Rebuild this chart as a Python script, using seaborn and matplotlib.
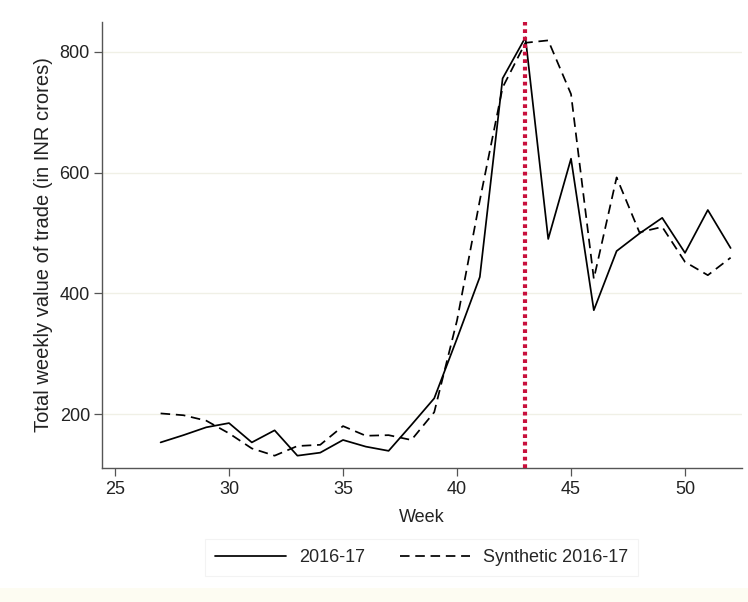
import matplotlib
matplotlib.use("Agg")
import matplotlib.pyplot as plt
import seaborn as sns
import pandas as pd
from matplotlib.lines import Line2D
from matplotlib.patches import Rectangle

weeks = list(range(27, 53))
actual = [153, 165, 178, 185, 153, 173, 131, 136, 157, 146, 139, 182, 226,
          325, 427, 756, 824, 490, 623, 372, 470, 499, 525, 467, 538, 475]
synthetic = [201, 198, 189, 168, 143, 131, 147, 149, 180, 164, 165, 157, 203,
             355, 554, 741, 815, 819, 730, 424, 592, 501, 510, 452, 430, 459]
series_names = ["2016-17", "Synthetic 2016-17"]
treat_week = 43
x_ticks = [25, 30, 35, 40, 45, 50]
y_ticks = [200, 400, 600, 800]

df = pd.DataFrame({
    "Week": weeks * 2,
    "Value": actual + synthetic,
    "Series": [series_names[0]] * len(weeks) + [series_names[1]] * len(weeks),
})

sns.set_style("white")
plt.rcParams["font.family"] = ["Liberation Sans", "DejaVu Sans"]

fig = plt.figure(figsize=(7.48, 6.02), dpi=100)
fig.patch.set_facecolor("white")
fig.patches.append(Rectangle((0, 0), 1, 0.023, transform=fig.transFigure,
                             facecolor="#fdfcf2", edgecolor="none", zorder=-5))
ax = fig.add_axes([0.137, 0.222, 0.855, 0.742])
ax.set_facecolor("white")

for yv in y_ticks:
    ax.axhline(yv, color="#f0f0e6", lw=1.0, zorder=0)

sns.lineplot(data=df, x="Week", y="Value", style="Series",
             dashes={series_names[0]: "", series_names[1]: (5.5, 3.3)},
             color="black", lw=1.25, ax=ax, legend=False, zorder=3)

ax.axvline(treat_week, color="#c8103c", lw=3.0, linestyle=(0, (0.9, 0.9)), zorder=4)

ax.set_xlim(24.45, 52.5)
ax.set_ylim(110, 850)
ax.set_xticks(x_ticks)
ax.set_yticks(y_ticks)
ax.tick_params(axis="both", direction="out", length=6, width=0.9, color="#555555",
               labelsize=13, labelcolor="#222222", pad=3, left=True, bottom=True)
for s in ["top", "right"]:
    ax.spines[s].set_visible(False)
for s in ["left", "bottom"]:
    ax.spines[s].set_color("#555555")
    ax.spines[s].set_linewidth(1.0)

ax.set_xlabel("Week", fontsize=13, color="#222222", labelpad=8)
ax.set_ylabel("Total weekly value of trade (in INR crores)", fontsize=14.5,
              color="#222222", labelpad=5)

handles = [Line2D([], [], color="black", lw=1.25),
           Line2D([], [], color="black", lw=1.25, dashes=(5.5, 3.3))]
leg = fig.legend(handles, series_names, loc="center", bbox_to_anchor=(0.564, 0.074),
                 ncol=2, frameon=True, fontsize=13, handlelength=3.9,
                 columnspacing=1.95, handletextpad=0.72, borderpad=0.55,
                 borderaxespad=0, fancybox=False)
leg.get_frame().set_edgecolor("#f0f0f0")
leg.get_frame().set_linewidth(0.8)

fig.savefig("out.png", dpi=100, facecolor=fig.get_facecolor())
